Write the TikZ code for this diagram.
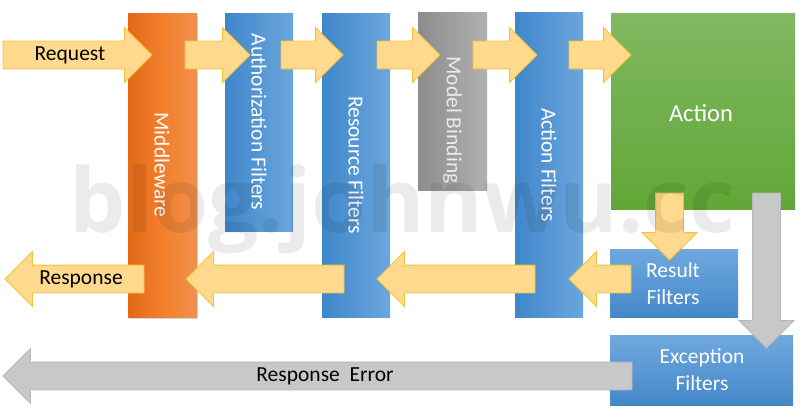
\documentclass[tikz,border=0pt]{standalone}
\usepackage{fontspec}
\setmainfont{Carlito}
\newfontfamily\markfont{Open Sans}
\usetikzlibrary{shapes.arrows,shadows}

\definecolor{orangeL}{HTML}{E26A17}
\definecolor{orangeM}{HTML}{F37F2C}
\definecolor{orangeR}{HTML}{F0904F}
\definecolor{blueL}{HTML}{3F87CA}
\definecolor{blueR}{HTML}{6CA6DD}
\definecolor{blueT}{HTML}{70A8DE}
\definecolor{blueB}{HTML}{4488C9}
\definecolor{grayL}{HTML}{8C8C8C}
\definecolor{grayR}{HTML}{B1B1B1}
\definecolor{greenT}{HTML}{80B962}
\definecolor{greenB}{HTML}{62A637}
\definecolor{arrowfill}{HTML}{FFD98D}
\definecolor{arrowline}{HTML}{F6C23A}
\definecolor{errfill}{HTML}{C8C8C8}
\definecolor{errline}{HTML}{B8B8B8}

\tikzset{
  bar/.style={draw=none, inner sep=0pt, outer sep=0pt, anchor=north west},
  bluebar/.style={bar, left color=blueL, right color=blueR},
  bluebox/.style={bar, top color=blueT, bottom color=blueB},
  flowarrow/.style={single arrow, draw=arrowline, fill=arrowfill, line width=0.8pt,
    inner xsep=0pt, inner ysep=13.5pt, outer sep=0pt, text height=0pt, text depth=0pt,
    single arrow head extend=13.5pt, single arrow head indent=0pt},
  downarrow/.style={shape border rotate=270, inner xsep=13.5pt, inner ysep=0pt, anchor=tail},
  leftarrow/.style={shape border rotate=180, anchor=tip},
  errarrow/.style={flowarrow, draw=errline, fill=errfill},
  txt/.style={font=\fontsize{21.5}{26}\selectfont, inner sep=0pt},
  vtext/.style={txt, rotate=-90, text=white},
  boxtext/.style={txt, text=white, align=center}
}

\begin{document}
\begin{tikzpicture}[x=1pt, y=-1pt]
\useasboundingbox[fill=white] (0,0) rectangle (800,420);

% pipeline stages
\node[bar, left color=orangeL, right color=orangeR, middle color=orangeM,
  minimum width=69pt, minimum height=303pt,
  drop shadow={opacity=0.3, shadow xshift=1pt, shadow yshift=-2pt}] (mw) at (128,14) {};
\node[bluebar, minimum width=68pt, minimum height=217pt] (auth) at (225,14) {};
\node[bluebar, minimum width=68pt, minimum height=303pt] (res) at (322,14) {};
\node[bar, left color=grayL, right color=grayR, minimum width=69pt, minimum height=177pt] (bind) at (418,13) {};
\node[bluebar, minimum width=68pt, minimum height=304pt] (actf) at (515,13) {};
\node[bar, top color=greenT, bottom color=greenB, minimum width=184pt, minimum height=195pt] (act) at (611,14) {};
\node[bluebox, minimum width=128pt, minimum height=68pt] (resf) at (610,249) {};
\node[bluebox, minimum width=183pt, minimum height=70pt] (exf) at (610,335) {};

% request path
\node[flowarrow, anchor=tail, minimum height=149pt] (req) at (3,55) {};
\node[flowarrow, anchor=tail, minimum height=65pt] (a1) at (185,55) {};
\node[flowarrow, anchor=tail, minimum height=62pt] (a2) at (281,55) {};
\node[flowarrow, anchor=tail, minimum height=63pt] (a3) at (377,55) {};
\node[flowarrow, anchor=tail, minimum height=64pt] (a4) at (473,55) {};
\node[flowarrow, anchor=tail, minimum height=62pt] (a5) at (569,55) {};

% response path
\node[flowarrow, downarrow, minimum height=67pt] (down) at (669.5,193) {};
\node[flowarrow, leftarrow, minimum height=62pt] (b3) at (569,279) {};
\node[flowarrow, leftarrow, minimum height=158pt] (b2) at (377,279) {};
\node[flowarrow, leftarrow, minimum height=158pt] (b1) at (186,279) {};
\node[flowarrow, leftarrow, minimum height=139pt] (resp) at (5,279) {};

% error path
\node[errarrow, downarrow, minimum height=155pt] (errdown) at (766.5,193) {};
\node[errarrow, leftarrow, minimum height=629pt] (err) at (3,376) {};

% labels
\node[txt] (reqtxt) at (70,55) {Request};
\node[txt] (resptxt) at (81,279) {Response};
\node[txt] (errtxt) at (325,376) {Response\ \ Error};
\node[vtext] at (162,165) {Middleware};
\node[vtext] at (259,122) {Authorization Filters};
\node[vtext] at (356,165) {Resource Filters};
\node[vtext, text=white!92!black] at (452.5,120) {Model Binding};
\node[vtext] at (549,165) {Action Filters};
\node[boxtext, font=\fontsize{24.5}{28}\selectfont] at (701,113) {Action};
\node[boxtext, font=\fontsize{21.5}{27}\selectfont] at (673,284) {Result\\Filters};
\node[boxtext, font=\fontsize{21.5}{27}\selectfont] at (702,370) {Exception\\Filters};

% watermark
\node[font=\markfont\bfseries\fontsize{89}{89}\selectfont, text=black, text opacity=0.08,
  anchor=base, inner sep=0pt] (mark) at (402.5,232) {blog.johnwu.cc};
\end{tikzpicture}
\end{document}
